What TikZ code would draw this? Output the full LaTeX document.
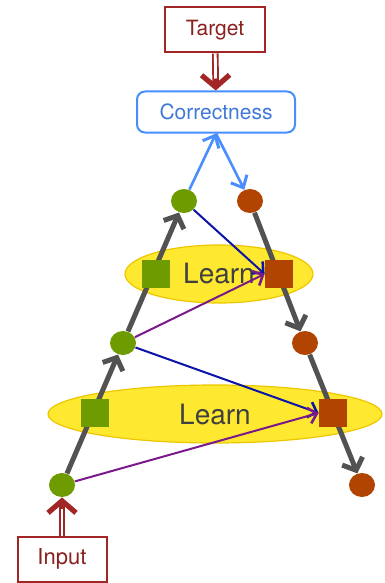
\documentclass[tikz,border=0pt]{standalone}
\usepackage{fontspec}
\setmainfont{TeX Gyre Heros}
\usetikzlibrary{positioning}
\usetikzlibrary{shapes.geometric}
\usetikzlibrary{arrows.meta}

\definecolor{leafgreen}{HTML}{6E9B00}
\definecolor{rust}{HTML}{B04400}
\definecolor{boxred}{HTML}{A32626}
\definecolor{skyblue}{HTML}{4A8DFF}
\definecolor{deepblue}{HTML}{0A14A8}
\definecolor{plum}{HTML}{7A1A8A}
\definecolor{lemon}{HTML}{FFE930}
\definecolor{lemonedge}{HTML}{EEC600}

\tikzset{
  unit/.style={ellipse, minimum width=13pt, minimum height=12pt, inner sep=0pt},
  sq/.style={rectangle, minimum size=14pt, inner sep=0pt},
  learnblob/.style={ellipse, fill=lemon, draw=lemonedge, line width=0.6pt,
    inner sep=0pt, minimum height=29pt, text=black!75, font=\fontsize{14}{16}\selectfont},
  endbox/.style={rectangle, draw=boxred, line width=1pt, fill=white, text=boxred!85!black,
    minimum height=22.5pt, inner sep=0pt},
  flow/.style={draw=black!68, line width=2.5pt, -{Straight Barb[length=5pt,width=11pt,line width=2.5pt]}},
  link/.style={line width=1pt, -{Straight Barb[length=4pt,width=8pt,line width=1.3pt]}},
  check/.style={draw=skyblue, line width=1.3pt, -{Straight Barb[length=5pt,width=9pt,line width=1.5pt]}},
  % thick red shaft with a white stripe, so it reads as a double line
  feed/.style={draw=boxred, line width=3.3pt,
    -{Straight Barb[length=6pt,width=14pt,line width=2.6pt]},
    postaction={draw=white, line width=1.4pt, -, shorten >=6pt}},
}

\begin{document}
\begin{tikzpicture}[x=0.5pt,y=-0.5pt]
\useasboundingbox (0,0) rectangle (385,583);

\node (learn2) [learnblob, minimum width=94pt]  at (219,274) {Learn};
\node (learn1) [learnblob, minimum width=167pt] at (215,414) {Learn};

\node (gTop) [unit, fill=leafgreen] at (184,201) {};
\node (oTop) [unit, fill=rust]      at (250,201) {};
\node (gMid) [unit, fill=leafgreen] at (123,343) {};
\node (oMid) [unit, fill=rust]      at (305,343) {};
\node (gIn)  [unit, fill=leafgreen] at (62,485)  {};
\node (oOut) [unit, fill=rust]      at (362,485) {};

\draw[flow] (gIn) -- (gMid);
\draw[flow] (gMid) -- (gTop);
\draw[flow] (oTop) -- (oMid);
\draw[flow] (oMid) -- (oOut);

\node (gSq2) [sq, fill=leafgreen] at (156,274) {};
\node (oSq2) [sq, fill=rust]      at (279,274) {};
\node (gSq1) [sq, fill=leafgreen] at (95,413)  {};
\node (oSq1) [sq, fill=rust]      at (333,413) {};

\draw[link, deepblue] (gTop) -- (oSq2.west);
\draw[link, plum]     (gMid) -- (oSq2.west);
\draw[link, deepblue] (gMid) -- (oSq1.west);
\draw[link, plum]     (gIn) -- (oSq1.west);

\node (target)  [endbox, minimum width=50pt, font=\fontsize{10.5}{12}\selectfont] at (215,30) {Target};
\node (correct) [rectangle, rounded corners=4pt, draw=skyblue, line width=1pt,
  text=skyblue!85!black, minimum width=79pt, minimum height=20.5pt, inner sep=0pt,
  font=\fontsize{10.5}{12}\selectfont] at (216,112) {Correctness};
\node (input)   [endbox, minimum width=44.5pt, font=\fontsize{11}{13}\selectfont] at (62,559) {Input};

\draw[feed] (target) -- (correct);
\draw[feed] (input) -- (gIn);
\draw[check] (gTop) -- (correct.south);
\draw[check] (correct.south) -- (oTop);
\end{tikzpicture}
\end{document}
